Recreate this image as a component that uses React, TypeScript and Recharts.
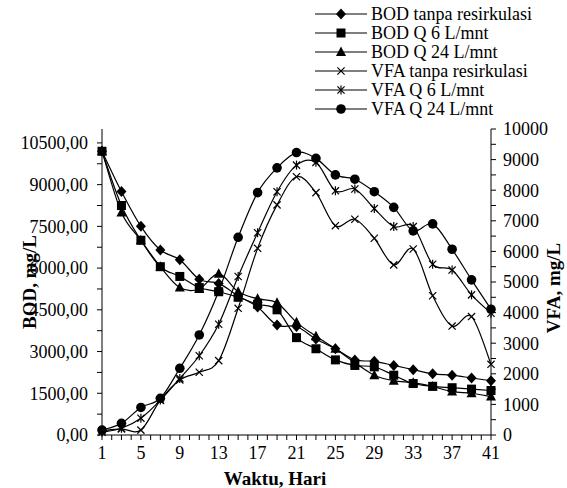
import React from "react";
import { LineChart, Line, XAxis, YAxis } from "recharts";

const days = [1, 3, 5, 7, 9, 11, 13, 15, 17, 19, 21, 23, 25, 27, 29, 31, 33, 35, 37, 39, 41];

// BOD, mg/L (left axis)
const bodTanpa = [10200, 8750, 7500, 6650, 6300, 5600, 5450, 5000, 4600, 3950, 3900, 3450, 3100, 2700, 2650, 2500, 2350, 2200, 2150, 2050, 1950];
const bodQ6 = [10200, 8250, 7000, 6050, 5700, 5300, 5150, 4950, 4700, 4500, 3500, 3100, 2700, 2500, 2450, 2150, 1850, 1750, 1700, 1650, 1600];
const bodQ24 = [10200, 8000, 7000, 6050, 5300, 5250, 5800, 5150, 4900, 4750, 4050, 3550, 3100, 2600, 2150, 1950, 1880, 1740, 1560, 1500, 1380];

// VFA, mg/L (right axis)
const vfaTanpa = [140, 200, 160, 1140, 1800, 2050, 2430, 4140, 6100, 7520, 8440, 7920, 6840, 7050, 6430, 5560, 6080, 4550, 3560, 3870, 2310];
const vfaQ6 = [90, 220, 550, 1140, 1850, 2590, 3620, 5180, 6610, 7950, 8820, 8910, 7980, 8040, 7400, 6810, 6810, 5580, 5390, 4580, 3980];
const vfaQ24 = [160, 380, 900, 1200, 2180, 3270, 4700, 6460, 7920, 8730, 9230, 9040, 8500, 8360, 7950, 7440, 6670, 6900, 6070, 5070, 4110];

const xTicks = Array.from({ length: 41 }, (_, i) => i + 1);
const leftTicks = Array.from({ length: 15 }, (_, i) => i * 750);
const rightTicks = Array.from({ length: 21 }, (_, i) => i * 500);

const legendNames = [
  "BOD tanpa resirkulasi",
  "BOD Q 6 L/mnt",
  "BOD Q 24 L/mnt",
  "VFA tanpa resirkulasi",
  "VFA Q 6 L/mnt",
  "VFA Q 24 L/mnt",
];

const data = days.map((d, i) => ({
  day: d,
  bodTanpa: bodTanpa[i],
  bodQ6: bodQ6[i],
  bodQ24: bodQ24[i],
  vfaTanpa: vfaTanpa[i],
  vfaQ6: vfaQ6[i],
  vfaQ24: vfaQ24[i],
}));

const FONT = '"Liberation Serif", "Times New Roman", serif';

// excel-like smoothing (catmull-rom through the points)
function excelCurve(context: any) {
  let pts: number[][] = [];
  return {
    areaStart() {},
    areaEnd() {},
    lineStart() {
      pts = [];
    },
    point(x: number, y: number) {
      pts.push([+x, +y]);
    },
    lineEnd() {
      if (!pts.length) return;
      context.moveTo(pts[0][0], pts[0][1]);
      for (let i = 0; i < pts.length - 1; i++) {
        const p0 = pts[i - 1] || pts[i];
        const p1 = pts[i];
        const p2 = pts[i + 1];
        const p3 = pts[i + 2] || p2;
        context.bezierCurveTo(
          p1[0] + (p2[0] - p0[0]) / 6,
          p1[1] + (p2[1] - p0[1]) / 6,
          p2[0] - (p3[0] - p1[0]) / 6,
          p2[1] - (p3[1] - p1[1]) / 6,
          p2[0],
          p2[1]
        );
      }
    },
  };
}

type Kind = "diamond" | "square" | "triangle" | "x" | "star" | "circle";

function Marker({ kind, cx, cy }: { kind: Kind; cx: number; cy: number }) {
  if (kind === "diamond")
    return <path d={`M${cx},${cy - 5.5}L${cx + 5},${cy}L${cx},${cy + 5.5}L${cx - 5},${cy}Z`} fill="#000" />;
  if (kind === "square") return <rect x={cx - 4.5} y={cy - 4.5} width={9} height={9} fill="#000" />;
  if (kind === "triangle")
    return <path d={`M${cx},${cy - 5.5}L${cx + 5},${cy + 4}L${cx - 5},${cy + 4}Z`} fill="#000" />;
  if (kind === "circle") return <circle cx={cx} cy={cy} r={4.8} fill="#000" />;
  const s = 3.6;
  return (
    <g stroke="#000" strokeWidth={1.2}>
      <line x1={cx - s} y1={cy - s} x2={cx + s} y2={cy + s} />
      <line x1={cx - s} y1={cy + s} x2={cx + s} y2={cy - s} />
      {kind === "star" && <line x1={cx} y1={cy - 4.5} x2={cx} y2={cy + 4.5} />}
    </g>
  );
}

const dotFor = (kind: Kind) => (p: any) =>
  <Marker key={`${kind}-${p.index}`} kind={kind} cx={p.cx} cy={p.cy} />;

const series: { key: string; axis: string; kind: Kind }[] = [
  { key: "bodTanpa", axis: "left", kind: "diamond" },
  { key: "bodQ6", axis: "left", kind: "square" },
  { key: "bodQ24", axis: "left", kind: "triangle" },
  { key: "vfaTanpa", axis: "right", kind: "x" },
  { key: "vfaQ6", axis: "right", kind: "star" },
  { key: "vfaQ24", axis: "right", kind: "circle" },
];

const fmtLeft = (v: number) => (v % 1500 === 0 ? v.toFixed(2).replace(".", ",") : "");
const fmtRight = (v: number) => (v % 1000 === 0 ? String(v) : "");
const fmtX = (v: number) => ((v - 1) % 4 === 0 ? String(v) : "");

export default function App() {
  const tickStyle = { fill: "#000", fontSize: 18, fontFamily: FONT };
  return (
    <div style={{ position: "absolute", left: 0, top: 0, width: 567, height: 488, background: "#fff" }}>
      <LineChart width={567} height={488} data={data} margin={{ top: 129, right: 16, left: 22, bottom: 13 }}>
        <XAxis
          dataKey="day"
          type="number"
          domain={[1, 41]}
          ticks={xTicks}
          interval={0}
          tickFormatter={fmtX}
          tick={tickStyle}
          tickSize={5}
          tickMargin={6}
          height={40}
          stroke="#000"
          allowDecimals={false}
        />
        <YAxis
          yAxisId="left"
          domain={[0, 11000]}
          ticks={leftTicks}
          interval={0}
          tickFormatter={fmtLeft}
          tick={tickStyle}
          tickSize={5}
          tickMargin={9}
          width={80}
          stroke="#000"
        />
        <YAxis
          yAxisId="right"
          orientation="right"
          domain={[0, 10000]}
          ticks={rightTicks}
          interval={0}
          tickFormatter={fmtRight}
          tick={tickStyle}
          tickSize={5}
          tickMargin={7}
          width={60}
          stroke="#000"
        />
        {series.map((s) => (
          <Line
            key={s.key}
            yAxisId={s.axis}
            dataKey={s.key}
            type={excelCurve as any}
            stroke="#000"
            strokeWidth={1.2}
            dot={dotFor(s.kind)}
            activeDot={false}
            isAnimationActive={false}
          />
        ))}
      </LineChart>
      <svg
        width={567}
        height={488}
        style={{ position: "absolute", left: 0, top: 0, pointerEvents: "none" }}
        fontFamily={FONT}
      >
        {series.map((s, i) => {
          const y = 14 + i * 19;
          return (
            <g key={s.key}>
              <line x1={315} y1={y} x2={367} y2={y} stroke="#000" strokeWidth={1.2} />
              <Marker kind={s.kind} cx={341} cy={y} />
              <text x={371} y={y} fontSize={18} dominantBaseline="central" fill="#000">
                {legendNames[i]}
              </text>
            </g>
          );
        })}
        <text x={29} y={282} fontSize={19} fontWeight="bold" textAnchor="middle" dominantBaseline="central" transform="rotate(-90 29 282)">
          BOD, mg/L
        </text>
        <text x={553} y={288} fontSize={19} fontWeight="bold" textAnchor="middle" dominantBaseline="central" transform="rotate(-90 553 288)">
          VFA, mg/L
        </text>
        <text x={275} y={478} fontSize={19} fontWeight="bold" textAnchor="middle" dominantBaseline="central">
          Waktu, Hari
        </text>
      </svg>
    </div>
  );
}
